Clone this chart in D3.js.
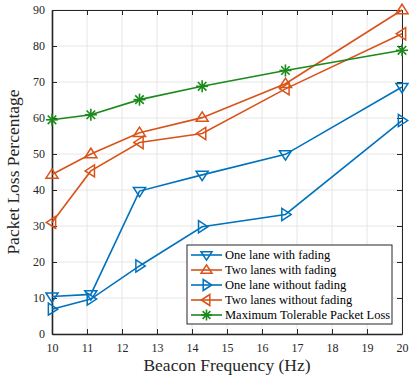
<!DOCTYPE html>
<html>
<head>
<meta charset="utf-8">
<script src="https://cdn.jsdelivr.net/npm/d3@7"></script>
<style>
  body { margin: 0; background: #fff; }
</style>
</head>
<body>
<div id="chart"></div>
<script>
// dati
var freq = [10, 11.11, 12.5, 14.29, 16.67, 20]

var oneLaneFading     = [10.4, 11.0, 39.7, 44.2, 49.9, 68.6]
var twoLanesFading    = [44.3, 50.0, 55.9, 60.1, 69.5, 90.0]
var oneLaneNoFading   = [6.9, 9.7, 18.9, 29.8, 33.2, 59.3]
var twoLanesNoFading  = [31.0, 45.3, 53.2, 55.7, 68.1, 83.4]
var maxTolerable      = [59.5, 60.9, 65.1, 68.8, 73.2, 78.8]

var seriesNames = ["One lane with fading", "Two lanes with fading", "One lane without fading", "Two lanes without fading", "Maximum Tolerable Packet Loss"]

var xTicks = [10, 11, 12, 13, 14, 15, 16, 17, 18, 19, 20]
var yTicks = [0, 10, 20, 30, 40, 50, 60, 70, 80, 90]

var W = 409, H = 378
var margin = {top: 10, right: 7, bottom: 44, left: 52}
var width = W - margin.left - margin.right,
	height = H - margin.top - margin.bottom

var serif = "Liberation Serif"
var blue = "#0072BD", orange = "#D95319", green = "#1a8a1a"

var series = [
	{name: seriesNames[0], values: oneLaneFading, color: blue, marker: "down"},
	{name: seriesNames[1], values: twoLanesFading, color: orange, marker: "up"},
	{name: seriesNames[2], values: oneLaneNoFading, color: blue, marker: "right"},
	{name: seriesNames[3], values: twoLanesNoFading, color: orange, marker: "left"},
	{name: seriesNames[4], values: maxTolerable, color: green, marker: "star"}
]

var svg = d3.select("#chart").append("svg")
	.attr("width", W)
	.attr("height", H)

var g = svg.append("g")
	.attr("transform", "translate(" + margin.left + "," + margin.top + ")")

var x = d3.scaleLinear().domain([10, 20]).range([0, width])
var y = d3.scaleLinear().domain([0, 90]).range([height, 0])

// griglia
g.append("g").selectAll("line").data(xTicks).enter().append("line")
	.attr("x1", d => x(d)).attr("x2", d => x(d))
	.attr("y1", 0).attr("y2", height)
	.attr("stroke", "#e6e6e6").attr("stroke-width", 1)
g.append("g").selectAll("line").data(yTicks).enter().append("line")
	.attr("y1", d => y(d)).attr("y2", d => y(d))
	.attr("x1", 0).attr("x2", width)
	.attr("stroke", "#e6e6e6").attr("stroke-width", 1)

// assi (tick verso l'interno, stile matlab)
var axisColor = "#262626"
var xAxis = g.append("g").attr("transform", "translate(0," + height + ")")
	.call(d3.axisBottom(x).tickValues(xTicks).tickSizeInner(-5).tickSizeOuter(0).tickPadding(9))
var xAxisTop = g.append("g")
	.call(d3.axisTop(x).tickValues(xTicks).tickSizeInner(-5).tickSizeOuter(0).tickFormat(""))
var yAxis = g.append("g")
	.call(d3.axisLeft(y).tickValues(yTicks).tickSizeInner(-5).tickSizeOuter(0).tickPadding(7))
var yAxisRight = g.append("g").attr("transform", "translate(" + width + ",0)")
	.call(d3.axisRight(y).tickValues(yTicks).tickSizeInner(-5).tickSizeOuter(0).tickFormat(""))

svg.selectAll(".domain").attr("stroke", axisColor).attr("stroke-width", 1)
svg.selectAll(".tick line").attr("stroke", axisColor)
svg.selectAll(".tick text").attr("fill", axisColor)
	.attr("font-size", 12).attr("font-family", serif)
xAxis.select(".domain").attr("stroke-width", 1.6)
yAxis.select(".domain").attr("stroke-width", 1.6)

// linee
var line = d3.line()
	.x((d, i) => x(freq[i]))
	.y(d => y(d))

function drawMarker(sel, type, color, s) {
	if (type == "star") {
		var r = s * 0.55
		for (var k = 0; k < 4; k++) {
			var a = k * Math.PI / 4
			sel.append("line")
				.attr("x1", -r * Math.cos(a)).attr("y1", -r * Math.sin(a))
				.attr("x2", r * Math.cos(a)).attr("y2", r * Math.sin(a))
				.attr("stroke", color).attr("stroke-width", 1.6)
		}
		return
	}
	var r = s * 0.55
	var pts
	if (type == "down") pts = [[-r, -r * 0.6], [r, -r * 0.6], [0, r * 0.95]]
	if (type == "up") pts = [[-r, r * 0.6], [r, r * 0.6], [0, -r * 0.95]]
	if (type == "right") pts = [[-r * 0.6, -r], [-r * 0.6, r], [r * 0.95, 0]]
	if (type == "left") pts = [[r * 0.6, -r], [r * 0.6, r], [-r * 0.95, 0]]
	sel.append("path")
		.attr("d", "M" + pts.map(p => p.join(",")).join("L") + "Z")
		.attr("fill", "none").attr("stroke", color).attr("stroke-width", 1.5)
}

series.forEach(function (s) {
	g.append("path")
		.attr("d", line(s.values))
		.attr("fill", "none")
		.attr("stroke", s.color)
		.attr("stroke-width", 1.6)
	s.values.forEach(function (v, i) {
		var m = g.append("g").attr("transform", "translate(" + x(freq[i]) + "," + y(v) + ")")
		drawMarker(m, s.marker, s.color, 11)
	})
})

// legenda
var legX = 187 - margin.left, legY = 245 - margin.top, legW = 205, legH = 79
var legend = g.append("g").attr("transform", "translate(" + legX + "," + legY + ")")
legend.append("rect")
	.attr("width", legW).attr("height", legH)
	.attr("fill", "#fff").attr("stroke", "#262626").attr("stroke-width", 1)
series.forEach(function (s, i) {
	var yy = 10 + i * 15
	legend.append("line")
		.attr("x1", 4).attr("x2", 35).attr("y1", yy).attr("y2", yy)
		.attr("stroke", s.color).attr("stroke-width", 1.6)
	var m = legend.append("g").attr("transform", "translate(19.5," + yy + ")")
	drawMarker(m, s.marker, s.color, 10)
	legend.append("text")
		.attr("x", 38).attr("y", yy + 4)
		.attr("fill", "#000")
		.attr("font-family", serif)
		.attr("font-size", 12.5)
		.text(s.name)
})

// etichette assi
svg.append("text")
	.attr("x", margin.left + width / 2)
	.attr("y", 371)
	.attr("text-anchor", "middle")
	.attr("font-family", serif)
	.attr("font-size", 17.5)
	.attr("fill", "#262626")
	.text("Beacon Frequency (Hz)")

svg.append("text")
	.attr("transform", "translate(19," + (margin.top + height / 2) + ") rotate(-90)")
	.attr("text-anchor", "middle")
	.attr("font-family", serif)
	.attr("font-size", 17.5)
	.attr("fill", "#262626")
	.text("Packet Loss Percentage")
</script>
</body>
</html>
